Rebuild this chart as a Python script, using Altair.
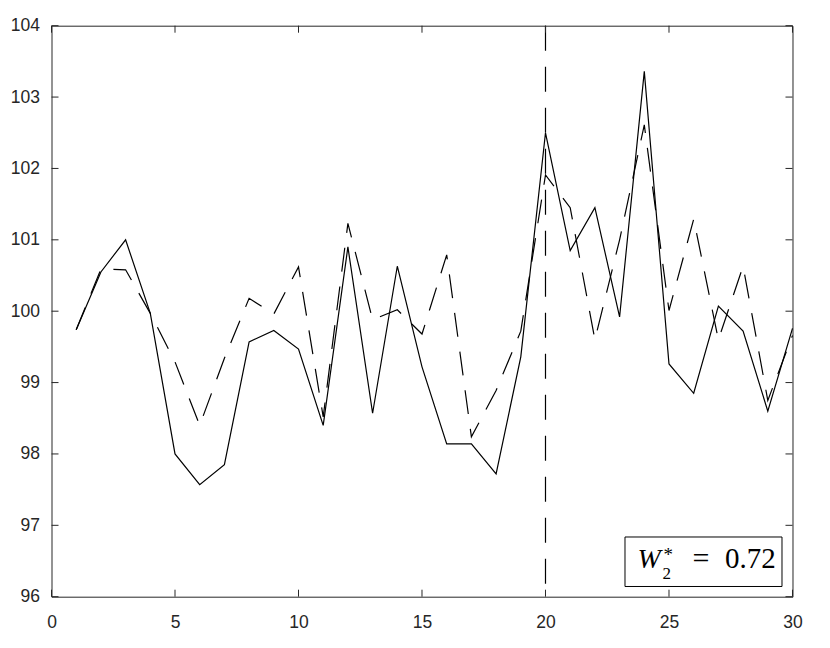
import altair as alt
import pandas as pd

# ---- data ----
x_vals = list(range(1, 31))
solid_vals = [99.74, 100.55, 101.0, 99.97, 98.0, 97.57, 97.85, 99.57, 99.73, 99.47,
              98.4, 100.9, 98.57, 100.63, 99.22, 98.14, 98.14, 97.72, 99.36, 102.5,
              100.85, 101.45, 99.92, 103.36, 99.26, 98.85, 100.07, 99.72, 98.6, 99.76]
dashed_vals = [99.74, 100.59, 100.58, 99.97, 99.29, 98.4, 99.34, 100.18, 99.96, 100.62,
               98.52, 101.23, 99.88, 100.02, 99.68, 100.79, 98.24, 98.89, 99.72, 101.91,
               101.45, 99.6, 101.0, 102.61, 100.01, 101.29, 99.6, 100.63, 98.75, 99.66]
x_ticks = [0, 5, 10, 15, 20, 25, 30]
y_ticks = [96, 97, 98, 99, 100, 101, 102, 103, 104]
vline_x = [20]
ann_value = "0.72"

W, H = 741, 571
TICK = 7
AX = "#262626"

df = pd.DataFrame({"t": x_vals, "solid": solid_vals, "dashed": dashed_vals})
xs = pd.DataFrame({"t": x_ticks})
ys = pd.DataFrame({"solid": y_ticks})
vl = pd.DataFrame({"t": vline_x})
one = pd.DataFrame({"a": [0]})

xscale = alt.Scale(domain=[0, 30], nice=False, zero=False)
yscale = alt.Scale(domain=[96, 104], nice=False, zero=False)

lab = dict(labelFont="Liberation Sans", labelFontSize=17.5, labelColor=AX,
           ticks=False, domain=False, grid=False, title=None,
           labelFlush=False, labelOverlap=False, labelBound=False)
xaxis = alt.Axis(values=x_ticks, labelPadding=16.5, format="d", **lab)
yaxis = alt.Axis(values=y_ticks, labelPadding=12, format="d", **lab)

X = alt.X("t:Q", scale=xscale, axis=xaxis)

solid = alt.Chart(df).mark_line(color="black", strokeWidth=1.2).encode(
    x=X,
    y=alt.Y("solid:Q", scale=yscale, axis=yaxis),
)
dashed = alt.Chart(df).mark_line(color="black", strokeWidth=1.2, strokeDash=[24, 15]).encode(
    x=X,
    y=alt.Y("dashed:Q", scale=yscale, axis=yaxis),
)
vline = alt.Chart(vl).mark_rule(color="black", strokeWidth=1.2, strokeDash=[25, 16]).encode(
    x=X,
)

xt_bot = alt.Chart(xs).mark_rule(color=AX, strokeWidth=1).encode(
    x=X, y=alt.value(H), y2=alt.value(H - TICK))
xt_top = alt.Chart(xs).mark_rule(color=AX, strokeWidth=1).encode(
    x=X, y=alt.value(0), y2=alt.value(TICK))
Y = alt.Y("solid:Q", scale=yscale, axis=yaxis)
yt_left = alt.Chart(ys).mark_rule(color=AX, strokeWidth=1).encode(
    y=Y, x=alt.value(0), x2=alt.value(TICK))
yt_right = alt.Chart(ys).mark_rule(color=AX, strokeWidth=1).encode(
    y=Y, x=alt.value(W - TICK), x2=alt.value(W))

box = alt.Chart(one).mark_rect(fill="white", stroke="black", strokeWidth=1).encode(
    x=alt.value(573.5), x2=alt.value(730.5), y=alt.value(511.3), y2=alt.value(560.8))

serif = "Liberation Serif"
t_W = alt.Chart(one).mark_text(text="W", font=serif, fontStyle="italic", fontSize=28,
                               align="left", baseline="alphabetic", color="black").encode(
    x=alt.value(586), y=alt.value(542.6))
t_2 = alt.Chart(one).mark_text(text="2", font=serif, fontSize=17,
                               align="left", baseline="alphabetic", color="black").encode(
    x=alt.value(611), y=alt.value(553))
t_s = alt.Chart(one).mark_text(text="*", font=serif, fontSize=19,
                               align="left", baseline="alphabetic", color="black").encode(
    x=alt.value(612), y=alt.value(535.5))
t_eq = alt.Chart(one).mark_text(text="=", font=serif, fontSize=30,
                                align="left", baseline="alphabetic", color="black").encode(
    x=alt.value(641), y=alt.value(542.6))
t_v = alt.Chart(one).mark_text(text=ann_value, font=serif, fontSize=29,
                               align="left", baseline="alphabetic", color="black").encode(
    x=alt.value(673.5), y=alt.value(542.6))

chart = alt.layer(
    solid, dashed, vline, xt_bot, xt_top, yt_left, yt_right, box, t_W, t_2, t_s, t_eq, t_v
).properties(
    width=W, height=H,
    autosize=alt.AutoSizeParams(type="none"),
    padding={"left": 43.5, "top": 17.7, "right": 29, "bottom": 43},
    background="white",
).configure_view(stroke=AX, strokeWidth=1)

chart.save("out.html", embed_options={"renderer": "svg", "actions": False})
